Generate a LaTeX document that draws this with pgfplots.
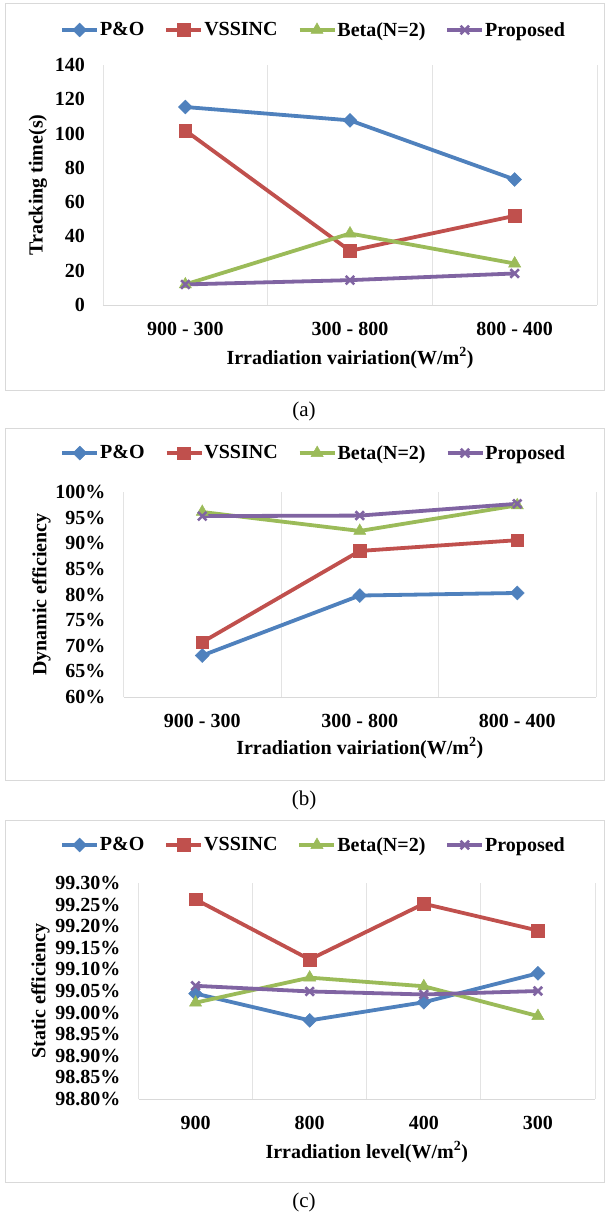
\documentclass[border=0pt]{standalone}
\usepackage{pgfplots}
\pgfplotsset{compat=1.18}
\usepackage{fontspec}
\setmainfont{Liberation Serif}
\definecolor{cBlue}{HTML}{4F81BD}
\definecolor{cRed}{HTML}{C0504D}
\definecolor{cGreen}{HTML}{9BBB59}
\definecolor{cPurple}{HTML}{8064A2}
\definecolor{frameg}{HTML}{D9D9D9}
\definecolor{gridg}{HTML}{E3E3E3}
\newcommand{\bigfont}{\fontsize{20}{24}\selectfont}
\pgfplotsset{
  myaxis/.style={
    scale only axis, anchor=south west,
    axis x line*=bottom, axis y line*=left,
    x axis line style={draw=frameg, line width=1pt},
    y axis line style={draw=none},
    major tick length=0pt, minor tick length=0pt,
    xminorgrids=true,
    minor grid style={draw=gridg, line width=0.9pt},
    tick label style={font=\bigfont\bfseries},
    label style={font=\bigfont\bfseries},
    yticklabel style={inner sep=0pt, anchor=east, xshift=-18pt},
    xticklabel style={inner sep=0pt, anchor=north, yshift=-17pt},
    ylabel style={anchor=center, rotate=0},
    xlabel style={anchor=center},
    legend columns=4,
    legend style={draw=none, fill=none, inner sep=0pt, anchor=west,
      font=\bigfont\bfseries,
      nodes={inner sep=1pt},
      /tikz/every even column/.append style={column sep=19pt}},
    legend image code/.code={\draw[mark repeat=2, mark phase=2] plot coordinates {(0pt,0pt) (17.5pt,0pt) (35pt,0pt)};},
  },
  sA/.style={cBlue, line width=3.8pt, mark=square*, mark size=4.9pt, mark options={solid, rotate=45, line width=0.5pt}},
  sB/.style={cRed, line width=3.8pt, mark=square*, mark size=6.3pt, mark options={solid, line width=0.5pt}},
  sC/.style={cGreen, line width=3.8pt, mark=triangle*, mark size=7pt, mark options={solid, line width=0.5pt}},
  sD/.style={cPurple, line width=3.8pt, mark=x, mark size=6pt, mark options={solid, line width=2.6pt}},
}
\begin{document}
\begin{tikzpicture}
\useasboundingbox (0pt,0pt) rectangle (608pt,-1220pt);
% frames
\draw[frameg, line width=1pt] (5.5pt,-3.5pt) rectangle (604.5pt,-390pt);
\draw[frameg, line width=1pt] (5.5pt,-428pt) rectangle (604.5pt,-780pt);
\draw[frameg, line width=1pt] (5.5pt,-820pt) rectangle (604.5pt,-1182pt);
\node[font=\fontsize{21}{25}\selectfont] at (304pt,-411pt) {(a)};
\node[font=\fontsize{21}{25}\selectfont] at (304pt,-800pt) {(b)};
\node[font=\fontsize{21}{25}\selectfont] at (304pt,-1202pt) {(c)};

% (a)
\begin{axis}[myaxis,
  at={(103pt,-305pt)}, width=494pt, height=240pt,
  xmin=-0.5, xmax=2.5, ymin=0, ymax=140,
  xtick={0,1,2}, xticklabels={900 - 300, 300 - 800, 800 - 400},
  minor xtick={-0.5,0.5,1.5,2.5},
  ytick={0,20,40,60,80,100,120,140},
  yticklabels={0,20,40,60,80,100,120,140},
  ylabel={Tracking time(s)},
  ylabel style={at={(axis description cs:-0.1316,0.5)}, rotate=0},
  xlabel={Irradiation vairiation(W/m\textsuperscript{2})},
  xlabel style={at={(axis description cs:0.5,-0.2208)}},
  legend style={at={(axis description cs:-0.087,1.146)}},
]
\addplot[sA] coordinates {(0,115.5) (1,107.7) (2,73.2)};
\addplot[sB] coordinates {(0,101.8) (1,31.6) (2,52.0)};
\addplot[sC] coordinates {(0,12.0) (1,41.7) (2,24.2)};
\addplot[sD] coordinates {(0,12.0) (1,14.5) (2,18.4)};
\legend{P\&O, VSSINC, Beta(N=2), Proposed}
\end{axis}

% (b)
\begin{axis}[myaxis,
  at={(123.5pt,-697pt)}, width=472.5pt, height=205pt,
  xmin=-0.5, xmax=2.5, ymin=60, ymax=100,
  xtick={0,1,2}, xticklabels={900 - 300, 300 - 800, 800 - 400},
  minor xtick={-0.5,0.5,1.5,2.5},
  ytick={60,65,70,75,80,85,90,95,100},
  yticklabels={60\%,65\%,70\%,75\%,80\%,85\%,90\%,95\%,100\%},
  ylabel={Dynamic efficiency},
  ylabel style={at={(axis description cs:-0.1735,0.5)}, rotate=0},
  xlabel={Irradiation vairiation(W/m\textsuperscript{2})},
  xlabel style={at={(axis description cs:0.5,-0.2488)}},
  legend style={at={(axis description cs:-0.134,1.190)}},
]
\addplot[sA] coordinates {(0,68.1) (1,79.8) (2,80.3)};
\addplot[sB] coordinates {(0,70.7) (1,88.5) (2,90.6)};
\addplot[sC] coordinates {(0,96.1) (1,92.4) (2,97.4)};
\addplot[sD] coordinates {(0,95.3) (1,95.4) (2,97.7)};
\legend{P\&O, VSSINC, Beta(N=2), Proposed}
\end{axis}

% (c)
\begin{axis}[myaxis,
  at={(138.5pt,-1099pt)}, width=456.5pt, height=216pt,
  xmin=-0.5, xmax=3.5, ymin=98.80, ymax=99.30,
  xtick={0,1,2,3}, xticklabels={900, 800, 400, 300},
  minor xtick={-0.5,0.5,1.5,2.5,3.5},
  ytick={98.80,98.85,98.90,98.95,99.00,99.05,99.10,99.15,99.20,99.25,99.30},
  yticklabels={98.80\%,98.85\%,98.90\%,98.95\%,99.00\%,99.05\%,99.10\%,99.15\%,99.20\%,99.25\%,99.30\%},
  ylabel={Static efficiency},
  ylabel style={at={(axis description cs:-0.2147,0.5)}, rotate=0},
  xlabel={Irradiation level(W/m\textsuperscript{2})},
  xlabel style={at={(axis description cs:0.5,-0.2454)}},
  legend style={at={(axis description cs:-0.172,1.176)}},
]
\addplot[sA] coordinates {(0,99.044) (1,98.982) (2,99.024) (3,99.091)};
\addplot[sB] coordinates {(0,99.262) (1,99.123) (2,99.252) (3,99.190)};
\addplot[sC] coordinates {(0,99.023) (1,99.081) (2,99.061) (3,98.992)};
\addplot[sD] coordinates {(0,99.062) (1,99.049) (2,99.042) (3,99.050)};
\legend{P\&O, VSSINC, Beta(N=2), Proposed}
\end{axis}
\end{tikzpicture}
\end{document}
